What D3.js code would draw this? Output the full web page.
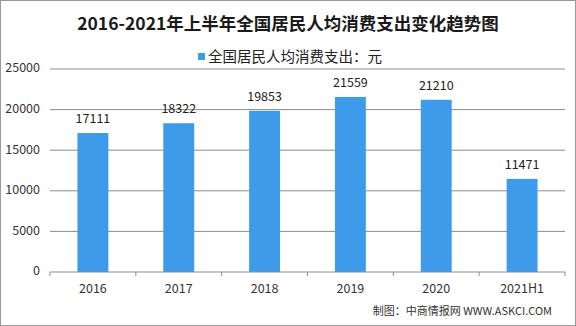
<!DOCTYPE html>
<html>
<head>
<meta charset="utf-8">
<script src="https://cdn.jsdelivr.net/npm/d3@7"></script>
<style>
  body { margin: 0; background: #fff; }
  svg { display: block; font-family: "Noto Sans CJK SC", "DejaVu Sans", sans-serif; }
</style>
</head>
<body>
<div id="container"></div>
<script>
// chart data
var years = ["2016", "2017", "2018", "2019", "2020", "2021H1"];
var spending = [17111, 18322, 19853, 21559, 21210, 11471];
var yTicks = [0, 5000, 10000, 15000, 20000, 25000];

var titleText = "2016-2021年上半年全国居民人均消费支出变化趋势图";
var legendText = "全国居民人均消费支出：元";
var sourceText = "制图：中商情报网 WWW.ASKCI.COM";

var svgWidth = 576, svgHeight = 326;
var margin = { top: 69, right: 11, bottom: 54, left: 50 },
    width = svgWidth - margin.left - margin.right,
    height = svgHeight - margin.top - margin.bottom;

var barColor = "#3d9be9";

var root = d3.select("div#container")
    .append("svg")
    .attr("width", svgWidth)
    .attr("height", svgHeight);

// outer frame
root.append("rect")
    .attr("x", 0.5).attr("y", 0.5)
    .attr("width", svgWidth - 1).attr("height", svgHeight - 1)
    .attr("fill", "#fff")
    .attr("stroke", "#9a9a9a");

// title
root.append("text")
    .attr("x", svgWidth / 2)
    .attr("y", 30)
    .attr("text-anchor", "middle")
    .style("font-size", "17.5px")
    .style("font-weight", "bold")
    .style("font-family", "'Noto Sans CJK SC', serif")
    .attr("fill", "#1a1a1a")
    .text(titleText);

// legend
var legend = root.append("g").attr("transform", "translate(198,58)");
legend.append("rect")
    .attr("x", 0).attr("y", -5)
    .attr("width", 7).attr("height", 7)
    .attr("fill", barColor);
legend.append("text")
    .attr("x", 10).attr("y", 0)
    .attr("dominant-baseline", "middle")
    .style("font-size", "14.5px")
    .attr("fill", "#222")
    .text(legendText);

var svg = root.append("g")
    .attr("transform", "translate(" + margin.left + "," + margin.top + ")");

// --- SCALES ---
var x = d3.scaleBand()
    .domain(years)
    .range([0, width])
    .paddingInner(0.64)
    .paddingOuter(0.32);

var y = d3.scaleLinear()
    .domain([0, 25000])
    .range([height, 0]);

// gridlines
svg.selectAll("line.grid")
    .data(yTicks.filter(function (t) { return t > 0; }))
    .enter()
    .append("line")
    .attr("class", "grid")
    .attr("x1", 0).attr("x2", width)
    .attr("y1", function (d) { return y(d); })
    .attr("y2", function (d) { return y(d); })
    .attr("stroke", "#8c8c8c")
    .attr("stroke-width", 1);

// y tick labels
svg.selectAll("text.ytick")
    .data(yTicks)
    .enter()
    .append("text")
    .attr("class", "ytick")
    .attr("x", -10)
    .attr("y", function (d) { return y(d); })
    .attr("dominant-baseline", "middle")
    .attr("text-anchor", "end")
    .style("font-size", "12.5px")
    .attr("fill", "#333")
    .text(function (d) { return d; });

// bars
svg.selectAll("rect.bar")
    .data(spending)
    .enter()
    .append("rect")
    .attr("class", "bar")
    .attr("x", function (d, i) { return x(years[i]); })
    .attr("y", function (d) { return y(d); })
    .attr("width", x.bandwidth())
    .attr("height", function (d) { return height - y(d); })
    .attr("fill", barColor);

// value labels
svg.selectAll("text.val")
    .data(spending)
    .enter()
    .append("text")
    .attr("class", "val")
    .attr("x", function (d, i) { return x(years[i]) + x.bandwidth() / 2; })
    .attr("y", function (d) { return y(d) - 10; })
    .attr("text-anchor", "middle")
    .style("font-size", "12.5px")
    .attr("fill", "#222")
    .text(function (d) { return d; });

// x axis
var xAxis = svg.append("g")
    .attr("transform", "translate(0," + height + ")");
xAxis.append("line")
    .attr("x1", 0).attr("x2", width)
    .attr("stroke", "#8c8c8c");
var step = width / years.length;
xAxis.selectAll("line.tick")
    .data(d3.range(years.length + 1))
    .enter()
    .append("line")
    .attr("class", "tick")
    .attr("x1", function (i) { return i * step; })
    .attr("x2", function (i) { return i * step; })
    .attr("y1", 0).attr("y2", 4)
    .attr("stroke", "#8c8c8c");
xAxis.selectAll("text")
    .data(years)
    .enter()
    .append("text")
    .attr("x", function (d) { return x(d) + x.bandwidth() / 2; })
    .attr("y", 21)
    .attr("text-anchor", "middle")
    .style("font-size", "12.5px")
    .attr("fill", "#333")
    .text(function (d) { return d; });

// source note
root.append("text")
    .attr("x", 552)
    .attr("y", 315)
    .attr("text-anchor", "end")
    .style("font-size", "11px")
    .attr("fill", "#333")
    .text(sourceText);
</script>
</body>
</html>
